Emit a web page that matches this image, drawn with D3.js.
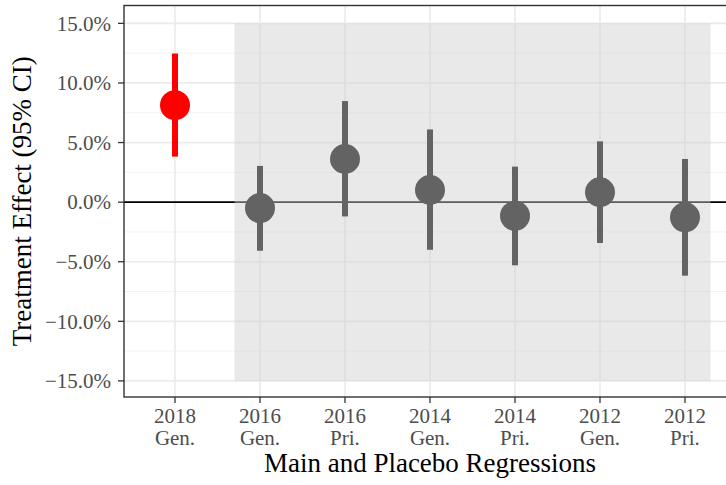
<!DOCTYPE html>
<html>
<head>
<meta charset="utf-8">
<script src="https://cdn.jsdelivr.net/npm/d3@7"></script>
<style>
  html, body { margin: 0; padding: 0; background: #fff; }
  svg { display: block; font-family: "Liberation Serif", serif; }
</style>
</head>
<body>
<svg id="chart" width="726" height="485"></svg>
<script>
"use strict";

// ── data ──────────────────────────────────────────────────────────────────────
const years    = ["2018", "2016", "2016", "2014", "2014", "2012", "2012"];
const types    = ["Gen.", "Gen.", "Pri.", "Gen.", "Pri.", "Gen.", "Pri."];
const estimate = [8.14, -0.50, 3.62, 1.02, -1.15, 0.83, -1.27];
const ciLow    = [3.82, -4.08, -1.20, -4.00, -5.30, -3.43, -6.17];
const ciHigh   = [12.47, 3.04, 8.48, 6.10, 2.98, 5.10, 3.62];
const isMain   = [true, false, false, false, false, false, false];
const yTicks   = [-15, -10, -5, 0, 5, 10, 15];
const yMinor   = [-12.5, -7.5, -2.5, 2.5, 7.5, 12.5];
const placeboX = [1.7, 7.3];
const placeboY = [-15, 15];

const rows = years.map((y, i) => ({
  pos: i + 1, year: y, type: types[i],
  est: estimate[i], lo: ciLow[i], hi: ciHigh[i], main: isMain[i],
}));

// ── layout ────────────────────────────────────────────────────────────────────
const panel = { left: 124, top: 5.5, right: 736, bottom: 397 };

const svg = d3.select("#chart");

const x = d3.scaleLinear().domain([0.4, 7.6]).range([panel.left, panel.right]);
const y = d3.scaleLinear().domain([-16.35, 16.5]).range([panel.bottom, panel.top]);

const fmt = v => (v < 0 ? "\u2212" : "") + Math.abs(v).toFixed(1) + "%";

const g = svg.append("g");

// Grid lines
g.selectAll("line.minor").data(yMinor).enter().append("line")
  .attr("x1", panel.left).attr("x2", panel.right)
  .attr("y1", d => y(d)).attr("y2", d => y(d))
  .attr("stroke", "#f0f0f0").attr("stroke-width", 0.9);

g.selectAll("line.major-y").data(yTicks).enter().append("line")
  .attr("x1", panel.left).attr("x2", panel.right)
  .attr("y1", d => y(d)).attr("y2", d => y(d))
  .attr("stroke", "#ebebeb").attr("stroke-width", 1.7);

g.selectAll("line.major-x").data(rows).enter().append("line")
  .attr("x1", d => x(d.pos)).attr("x2", d => x(d.pos))
  .attr("y1", panel.top).attr("y2", panel.bottom)
  .attr("stroke", "#ebebeb").attr("stroke-width", 1.7);

// Zero line
g.append("line")
  .attr("x1", panel.left).attr("x2", panel.right)
  .attr("y1", y(0)).attr("y2", y(0))
  .attr("stroke", "#000").attr("stroke-width", 1.8);

// Placebo shading (translucent, drawn over grid + zero line)
g.append("rect")
  .attr("x", x(placeboX[0])).attr("width", x(placeboX[1]) - x(placeboX[0]))
  .attr("y", y(placeboY[1])).attr("height", y(placeboY[0]) - y(placeboY[1]))
  .attr("fill", "#cfcfcf").attr("fill-opacity", 0.45);

// Confidence intervals
g.selectAll("line.ci").data(rows).enter().append("line")
  .attr("x1", d => x(d.pos)).attr("x2", d => x(d.pos))
  .attr("y1", d => y(d.lo)).attr("y2", d => y(d.hi))
  .attr("stroke", d => d.main ? "#ff0000" : "#636363")
  .attr("stroke-width", 6);

// Points
g.selectAll("circle").data(rows).enter().append("circle")
  .attr("cx", d => x(d.pos)).attr("cy", d => y(d.est))
  .attr("r", 15)
  .attr("fill", d => d.main ? "#ff0000" : "#636363");

// Panel border
g.append("rect")
  .attr("x", panel.left).attr("y", panel.top)
  .attr("width", panel.right - panel.left).attr("height", panel.bottom - panel.top)
  .attr("fill", "none").attr("stroke", "#333333").attr("stroke-width", 1.4);

// Y axis ticks + labels
const yAx = svg.append("g");
yAx.selectAll("line").data(yTicks).enter().append("line")
  .attr("x1", panel.left - 6).attr("x2", panel.left)
  .attr("y1", d => y(d)).attr("y2", d => y(d))
  .attr("stroke", "#333333").attr("stroke-width", 1.3);
yAx.selectAll("text").data(yTicks).enter().append("text")
  .attr("x", panel.left - 13).attr("y", d => y(d)).attr("dy", "0.35em")
  .attr("text-anchor", "end").attr("fill", "#4d4d4d").attr("font-size", 21)
  .text(fmt);

// X axis ticks + labels
const xAx = svg.append("g");
xAx.selectAll("line").data(rows).enter().append("line")
  .attr("x1", d => x(d.pos)).attr("x2", d => x(d.pos))
  .attr("y1", panel.bottom).attr("y2", panel.bottom + 6)
  .attr("stroke", "#333333").attr("stroke-width", 1.3);
const xl = xAx.selectAll("text").data(rows).enter().append("text")
  .attr("text-anchor", "middle").attr("fill", "#4d4d4d").attr("font-size", 21);
xl.append("tspan").attr("x", d => x(d.pos)).attr("y", 423).text(d => d.year);
xl.append("tspan").attr("x", d => x(d.pos)).attr("y", 445).text(d => d.type);

// Axis titles
svg.append("text")
  .attr("x", (panel.left + panel.right) / 2).attr("y", 472)
  .attr("text-anchor", "middle").attr("font-size", 27).attr("fill", "#000")
  .text("Main and Placebo Regressions");

svg.append("text")
  .attr("transform", `translate(31,${(panel.top + panel.bottom) / 2}) rotate(-90)`)
  .attr("text-anchor", "middle").attr("font-size", 27).attr("fill", "#000")
  .text("Treatment Effect (95% CI)");
</script>
</body>
</html>
